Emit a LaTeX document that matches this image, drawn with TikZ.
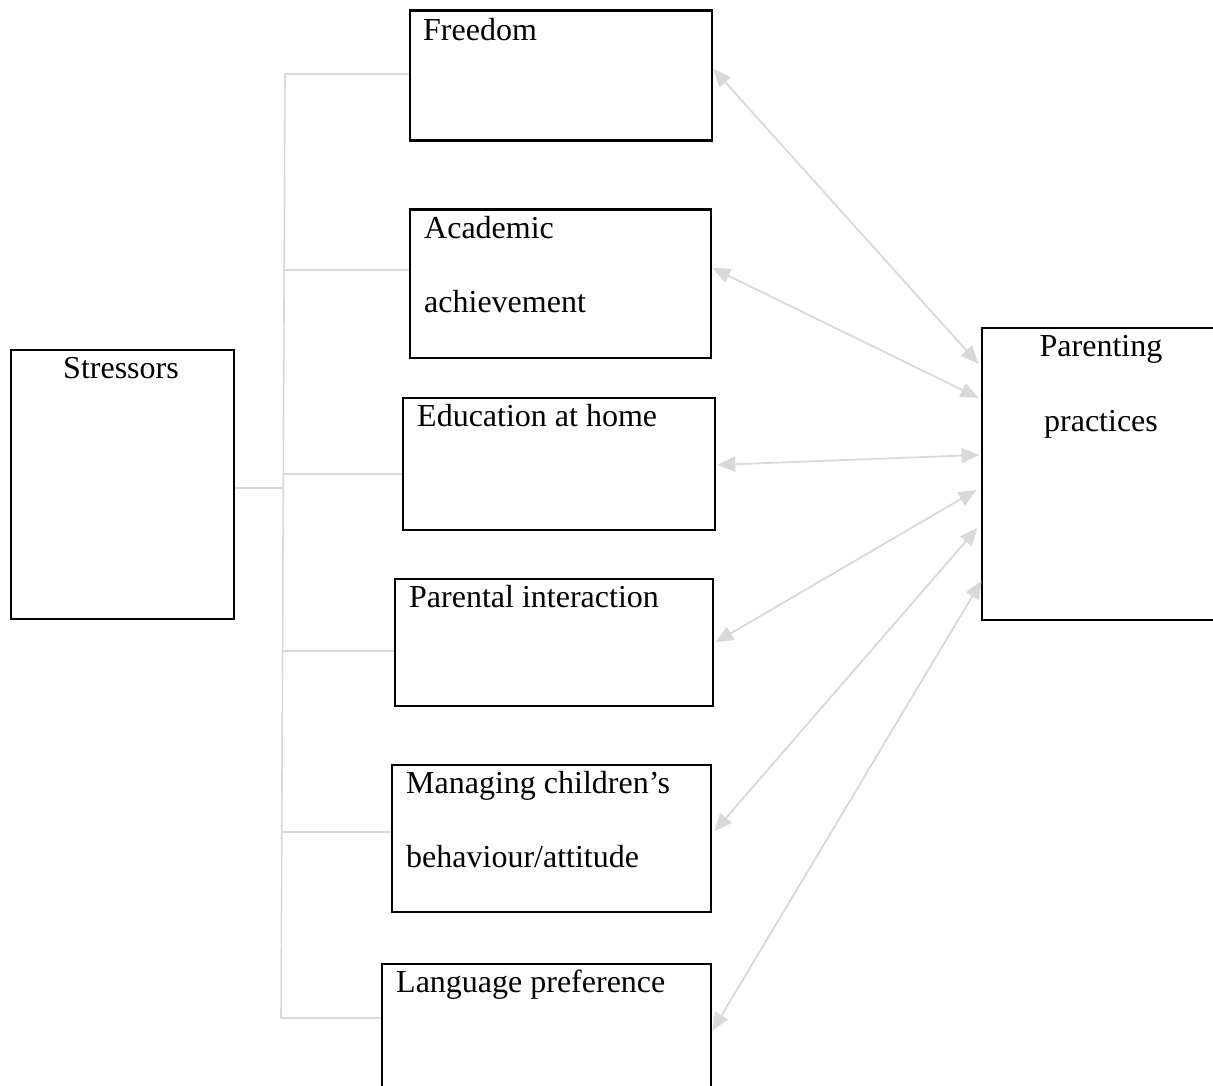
\documentclass[tikz,border=0pt]{standalone}
\usepackage{fontspec}
\setmainfont{Liberation Serif}
\usetikzlibrary{arrows.meta}
\begin{document}
\begin{tikzpicture}[x=1pt,y=-1pt,
  box/.style={draw=black, line width=2.8pt, inner sep=0pt, anchor=north west},
  lbl/.style={font=\fontsize{32}{38}\selectfont, inner sep=0pt, text=black},
  tree/.style={draw=gray!30, line width=1.6pt},
  link/.style={draw=gray!30, line width=1.8pt, {Triangle[length=18pt,width=15pt]}-{Triangle[length=18pt,width=15pt]}}]
\clip (0,0) rectangle (1213,1086);
\fill[white] (0,0) rectangle (1213,1086);

% boxes
\node[box, minimum width=223pt, minimum height=269pt] (str) at (9.5,348.5) {};
\node[box, minimum width=302pt, minimum height=130pt] (free) at (408.5,9.5) {};
\node[box, minimum width=301pt, minimum height=148pt] (acad) at (408.5,208.5) {};
\node[box, minimum width=312pt, minimum height=132pt] (edu) at (401.5,396.5) {};
\node[box, minimum width=318pt, minimum height=127pt] (pint) at (393.5,577.5) {};
\node[box, minimum width=319pt, minimum height=147pt] (mng) at (390.5,763.5) {};
\node[box, minimum width=329pt, minimum height=140pt] (lang) at (380.5,962.5) {};
\node[box, minimum width=260pt, minimum height=292pt] (par) at (980.5,326.5) {};

% texts
\node[lbl, anchor=base] (tstr) at (121,378) {Stressors};
\node[lbl, anchor=base west] (tfree) at (423,41) {Freedom};
\node[lbl, anchor=base west] (tacad1) at (424,239) {Academic};
\node[lbl, anchor=base west] (tacad2) at (424,312) {achievement};
\node[lbl, anchor=base west] (tedu) at (417,426) {Education at home};
\node[lbl, anchor=base west] (tpint) at (409,607) {Parental interaction};
\node[lbl, anchor=base west] (tmng1) at (406,793) {Managing children’s};
\node[lbl, anchor=base west] (tmng2) at (406,867) {behaviour/attitude};
\node[lbl, anchor=base west] (tlang) at (396,992) {Language preference};
\node[lbl, anchor=base] (tpar1) at (1101,356) {Parenting};
\node[lbl, anchor=base] (tpar2) at (1101,431) {practices};

% tree connectors
\coordinate (trtop) at (285,74);
\coordinate (trbot) at (281,1018);
\coordinate (trmid) at (283,488);
\draw[tree] (trtop) -- (trbot);
\draw[tree] (str.east |- trmid) -- (trmid);
\draw[tree] (trtop) -- (free.west |- trtop);
\draw[tree] (284,270) coordinate (b2) -- (acad.west |- b2);
\draw[tree] (284,474) coordinate (b3) -- (edu.west |- b3);
\draw[tree] (283,651) coordinate (b4) -- (pint.west |- b4);
\draw[tree] (283,832) coordinate (b5) -- (mng.west |- b5);
\draw[tree] (trbot) -- (lang.west |- trbot);

% double-headed arrows
\draw[link] ([yshift=7pt]free.east) -- ([xshift=-2pt,yshift=110pt]par.west);
\draw[link] ([yshift=16pt]acad.east) -- ([xshift=-2pt,yshift=76pt]par.west);
\draw[link] ([xshift=1pt,yshift=-1pt]edu.east) -- ([xshift=-1pt,yshift=19pt]par.west);
\draw[link] ([xshift=1pt]pint.east) -- ([xshift=-4pt,yshift=-16pt]par.west);
\draw[link] ([xshift=2pt,yshift=7pt]mng.east) -- ([xshift=-3pt,yshift=-54pt]par.west);
\draw[link] ([yshift=3pt]lang.east) -- ([xshift=1pt,yshift=-107pt]par.west);
\end{tikzpicture}
\end{document}
